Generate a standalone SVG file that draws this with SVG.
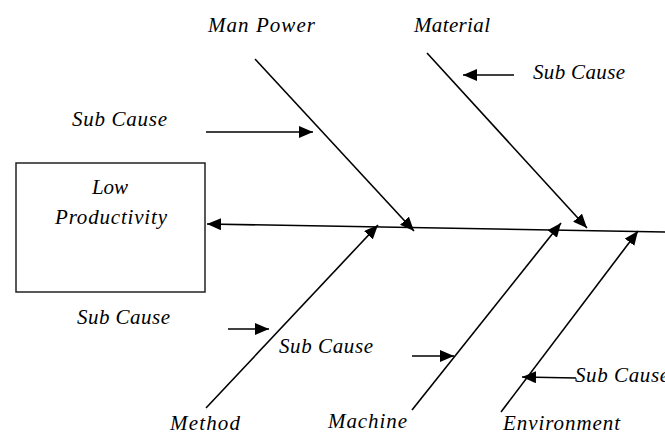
<svg xmlns="http://www.w3.org/2000/svg" width="665" height="434" viewBox="0 0 665 434">
<style>
.t{font-family:"Liberation Serif","Times New Roman",serif;font-style:italic;font-size:21px;fill:#000}
.c{stroke:#000;stroke-width:1.6;fill:none}
</style>
<defs>
<marker id="ah" markerUnits="userSpaceOnUse" markerWidth="15" markerHeight="12" refX="14" refY="6" orient="auto">
<path d="M0,0 L14,6 L0,12 Z" fill="#000"/>
</marker>
</defs>
<rect width="665" height="434" fill="#fff"/>
<g id="effect">
<rect x="16" y="163" width="189" height="129" fill="#fff" stroke="#222" stroke-width="1.5"/>
<text class="t" x="110" y="194" text-anchor="middle">Low</text>
<text class="t" x="111" y="224" text-anchor="middle" textLength="112" lengthAdjust="spacing">Productivity</text>
</g>
<g id="connectors">
<line class="c" x1="665" y1="232" x2="207" y2="224" marker-end="url(#ah)"/>
<line class="c" x1="255" y1="59" x2="414" y2="231" marker-end="url(#ah)"/>
<line class="c" x1="427" y1="53" x2="587" y2="228" marker-end="url(#ah)"/>
<line class="c" x1="206" y1="408" x2="378" y2="225" marker-end="url(#ah)"/>
<line class="c" x1="412" y1="410" x2="561" y2="223" marker-end="url(#ah)"/>
<line class="c" x1="501" y1="412" x2="638" y2="231" marker-end="url(#ah)"/>
<line class="c" x1="206" y1="132" x2="313" y2="132" marker-end="url(#ah)"/>
<line class="c" x1="514" y1="75" x2="463" y2="75" marker-end="url(#ah)"/>
<line class="c" x1="228" y1="329" x2="269" y2="329" marker-end="url(#ah)"/>
<line class="c" x1="412" y1="356" x2="454" y2="356" marker-end="url(#ah)"/>
<line class="c" x1="576" y1="378" x2="522" y2="377" marker-end="url(#ah)"/>
</g>
<g id="man-power"><text class="t" x="208" y="32" textLength="107" lengthAdjust="spacing">Man Power</text></g>
<g id="material"><text class="t" x="414" y="32" textLength="76" lengthAdjust="spacing">Material</text></g>
<g id="method"><text class="t" x="170" y="430" textLength="70" lengthAdjust="spacing">Method</text></g>
<g id="machine"><text class="t" x="328" y="428" textLength="79" lengthAdjust="spacing">Machine</text></g>
<g id="environment"><text class="t" x="503" y="430" textLength="117" lengthAdjust="spacing">Environment</text></g>
<g id="sub-cause-1"><text class="t" x="72" y="126" textLength="95" lengthAdjust="spacing">Sub Cause</text></g>
<g id="sub-cause-2"><text class="t" x="533" y="79" textLength="92" lengthAdjust="spacing">Sub Cause</text></g>
<g id="sub-cause-3"><text class="t" x="77" y="324" textLength="93" lengthAdjust="spacing">Sub Cause</text></g>
<g id="sub-cause-4"><text class="t" x="279" y="353" textLength="94" lengthAdjust="spacing">Sub Cause</text></g>
<g id="sub-cause-5"><text class="t" x="575" y="382" textLength="94" lengthAdjust="spacing">Sub Cause</text></g>
</svg>
